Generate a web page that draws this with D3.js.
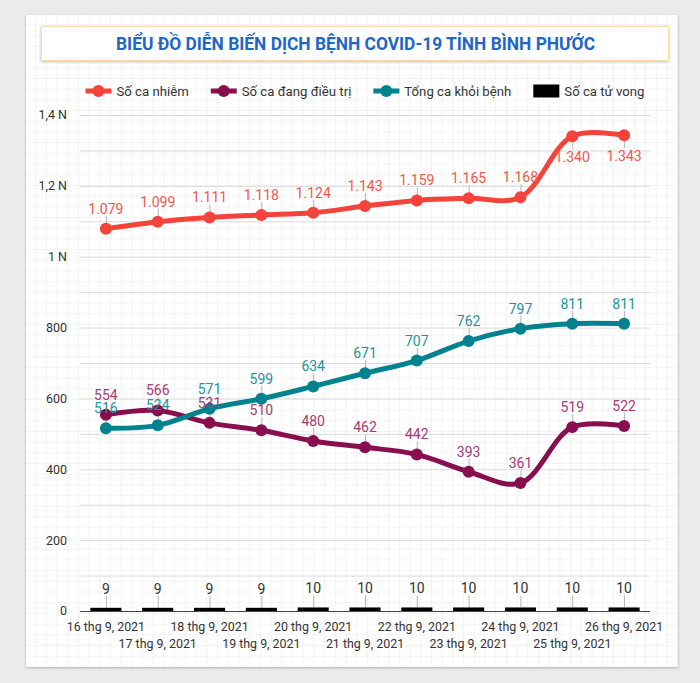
<!DOCTYPE html>
<html><head><meta charset="utf-8">
<script src="https://cdn.jsdelivr.net/npm/d3@7"></script>
<style>
html,body{margin:0;padding:0;background:#ebebeb;}
svg{display:block;font-family:Roboto,"Noto Sans",sans-serif;}
</style></head><body>
<svg id="c" width="700" height="683"></svg>
<script>
const title = "BIỂU ĐỒ DIỄN BIẾN DỊCH BỆNH COVID-19 TỈNH BÌNH PHƯỚC";
const dates = ["16 thg 9, 2021","17 thg 9, 2021","18 thg 9, 2021","19 thg 9, 2021","20 thg 9, 2021","21 thg 9, 2021","22 thg 9, 2021","23 thg 9, 2021","24 thg 9, 2021","25 thg 9, 2021","26 thg 9, 2021"];
const infected  = [1079,1099,1111,1118,1124,1143,1159,1165,1168,1340,1343];
const treating  = [554,566,531,510,480,462,442,393,361,519,522];
const recovered = [516,524,571,599,634,671,707,762,797,811,811];
const deaths    = [9,9,9,9,10,10,10,10,10,10,10];
const seriesNames = ["Số ca nhiễm","Số ca đang điều trị","Tổng ca khỏi bệnh","Số ca tử vong"];
const yTicks = [0,200,400,600,800,1000,1200,1400];
const yTickLabels = ["0","200","400","600","800","1 N","1,2 N","1,4 N"];
const yGrid = [100,200,300,400,500,600,700,800,900,1000,1100,1200,1300,1400];

const svg = d3.select("#c");
const defs = svg.append("defs");
const f = defs.append("filter").attr("id","sh").attr("x","-5%").attr("y","-5%").attr("width","110%").attr("height","115%");
f.append("feDropShadow").attr("dx",0).attr("dy",1).attr("stdDeviation",1.5).attr("flood-color","#000").attr("flood-opacity",0.25);
const pat = defs.append("pattern").attr("id","grid").attr("patternUnits","userSpaceOnUse")
  .attr("width",10.7).attr("height",10.7).attr("x",4).attr("y",4);
pat.append("rect").attr("width",10.7).attr("height",10.7).attr("fill","#fff");
pat.append("path").attr("d","M10.7 0V10.7M0 10.7H10.7").attr("stroke","#e9e9e9").attr("stroke-width",1).attr("fill","none");

// card
svg.append("rect").attr("x",26).attr("y",15).attr("width",652).attr("height",652).attr("fill","#fff").attr("filter","url(#sh)");
svg.append("rect").attr("x",26).attr("y",15).attr("width",652).attr("height",652).attr("fill","url(#grid)");

// title box
svg.append("rect").attr("x",41.5).attr("y",26.5).attr("width",627).attr("height",34).attr("fill","#fff")
  .attr("stroke","#f4dfa6").attr("stroke-width",1).attr("filter","url(#sh)");
svg.append("text").attr("x",355.5).attr("y",50).attr("text-anchor","middle").attr("font-size",18).attr("font-weight","bold")
  .attr("fill","#1f67c4").attr("textLength",479).attr("lengthAdjust","spacingAndGlyphs").text(title);

// scales
const x = d3.scaleBand().domain(dates).range([80,650]);
const y = d3.scaleLinear().domain([0,1400]).range([611,115]);
const cx = d => x(d) + x.bandwidth()/2;

// gridlines
svg.append("g").selectAll("line").data(yGrid).join("line")
  .attr("x1",80).attr("x2",650).attr("y1",d=>y(d)+0.5).attr("y2",d=>y(d)+0.5)
  .attr("stroke","#dadada").attr("stroke-width",1);

// y axis labels
svg.append("g").selectAll("text").data(yTicks).join("text")
  .attr("x",67).attr("y",d=>y(d)).attr("dy","0.35em").attr("text-anchor","end")
  .attr("font-size",12.5).attr("fill","#333").text((d,i)=>yTickLabels[i]);

// x axis labels
svg.append("g").selectAll("text").data(dates).join("text")
  .attr("x",d=>cx(d)).attr("y",(d,i)=> i%2===0 ? 631 : 648).attr("text-anchor","middle")
  .attr("font-size",12.4).attr("fill","#333").text(d=>d);

const fmt = v => v >= 1000 ? d3.format(",")(v).replace(/,/g,".") : String(v);

// bars (deaths)
const barW = x.bandwidth()*0.6;
const gb = svg.append("g");
gb.selectAll("line").data(deaths).join("line")
  .attr("x1",(d,i)=>cx(dates[i])+0.5).attr("x2",(d,i)=>cx(dates[i])+0.5)
  .attr("y1",d=>y(d)-12).attr("y2",d=>y(d)).attr("stroke","#b5b5b5");
gb.selectAll("rect").data(deaths).join("rect")
  .attr("x",(d,i)=>cx(dates[i])-barW/2).attr("width",barW)
  .attr("y",d=>y(d)).attr("height",d=>y(0)-y(d)).attr("fill","#000");
gb.selectAll("text").data(deaths).join("text")
  .attr("x",(d,i)=>cx(dates[i])).attr("y",d=>y(d)-14).attr("text-anchor","middle")
  .attr("font-size",14).attr("fill","#333").text(d=>d);

// axis baseline
svg.append("line").attr("x1",80).attr("x2",650).attr("y1",611.5).attr("y2",611.5).attr("stroke","#444").attr("stroke-width",1.2);

const series = [
  {vals:infected, color:"#f4433a", lab:"#f2574b"},
  {vals:treating, color:"#880e4f", lab:"#a53b73"},
  {vals:recovered, color:"#00838f", lab:"#1f959c"}
];
const line = d3.line().x((d,i)=>cx(dates[i])).y(d=>y(d)).curve(d3.curveCatmullRom.alpha(0.5));
const gl = svg.append("g"), gd = svg.append("g"), gt = svg.append("g");
series.forEach(s=>{
  const below = v => y(v) - 25 < 115;
  gl.selectAll(null).data(s.vals).join("line")
    .attr("x1",(d,i)=>cx(dates[i])+0.5).attr("x2",(d,i)=>cx(dates[i])+0.5)
    .attr("y1",d=>y(d)).attr("y2",d=> below(d) ? y(d)+13 : y(d)-13).attr("stroke","#b5b5b5");
  gl.append("path").datum(s.vals).attr("d",line).attr("fill","none").attr("stroke",s.color)
    .attr("stroke-width",5).attr("stroke-linecap","round").attr("stroke-linejoin","round");
  gd.selectAll(null).data(s.vals).join("circle")
    .attr("cx",(d,i)=>cx(dates[i])).attr("cy",d=>y(d)).attr("r",6).attr("fill",s.color);
  gt.selectAll(null).data(s.vals).join("text")
    .attr("x",(d,i)=>cx(dates[i])).attr("y",d=> below(d) ? y(d)+26 : y(d)-15)
    .attr("text-anchor","middle").attr("font-size",14).attr("fill",s.lab).text(d=>fmt(d));
});

// legend
const lg = svg.append("g");
const legColors = ["#f4433a","#880e4f","#00838f","#000"];
const items = seriesNames.map((n,i)=>{
  const g = lg.append("g");
  if(i<3){
    g.append("line").attr("x1",0).attr("x2",26).attr("y1",0).attr("y2",0).attr("stroke",legColors[i]).attr("stroke-width",5);
    g.append("circle").attr("cx",13).attr("cy",0).attr("r",6).attr("fill",legColors[i]);
  } else {
    g.append("rect").attr("x",0).attr("y",-6.5).attr("width",26).attr("height",13).attr("fill","#000");
  }
  const t = g.append("text").attr("x",31).attr("y",0).attr("dy","0.35em").attr("font-size",13.2).attr("fill","#333").text(n);
  return {g, w: 31 + t.node().getComputedTextLength()};
});
const gap = 22;
const total = d3.sum(items,d=>d.w) + gap*(items.length-1);
let xp = 365 - total/2;
items.forEach(it=>{ it.g.attr("transform",`translate(${xp},91)`); xp += it.w + gap; });
</script>
</body></html>
